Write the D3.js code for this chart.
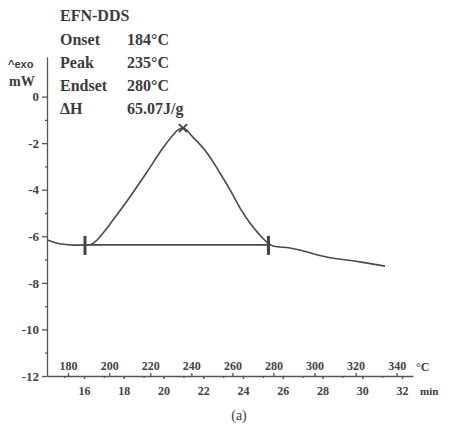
<!DOCTYPE html>
<html>
<head>
<meta charset="UTF-8">
<script src="https://d3js.org/d3.v7.min.js"></script>
<style>
    body { margin: 0; background: #fff; }
    text { font-family: "Liberation Serif", "DejaVu Serif", serif; font-weight: bold; fill: #3c3c3c; }
    .axis path, .axis line { stroke: #555; stroke-width: 1.3px; }
    .axis text { font-size: 12px; fill: #444; }
</style>
</head>
<body>
<svg id="chart"></svg>
<script>
// DSC trace
const timeMin  = [14.14, 14.79, 15.55, 16.05, 16.3, 16.66, 16.96, 17.46, 18.31, 19.17, 19.97, 20.48, 20.73, 20.98, 21.48, 22.19, 22.84, 23.35, 23.85, 24.35, 24.85, 25.26, 25.51, 26.36, 28.2, 29.88, 31.14];
const heatFlow = [-6.16, -6.32, -6.38, -6.37, -6.36, -6.16, -5.86, -5.3, -4.31, -3.24, -2.21, -1.65, -1.43, -1.35, -1.74, -2.42, -3.28, -4.01, -4.79, -5.43, -5.95, -6.29, -6.42, -6.5, -6.89, -7.1, -7.28];

const onset = { t: 16.05, v: -6.37 };
const endset = { t: 25.28, v: -6.37 };
const peak = { t: 20.98, v: -1.35 };

const yTicks = [0, -2, -4, -6, -8, -10, -12];
const timeTicks = [16, 18, 20, 22, 24, 26, 28, 30, 32];
const tempTicks = [180, 200, 220, 240, 260, 280, 300, 320, 340];

const infoLabels = ["Onset", "Peak", "Endset", "\u0394H"];
const infoValues = ["184\u00b0C", "235\u00b0C", "280\u00b0C", "65.07J/g"];

const width = 450, height = 425;
const svg = d3.select("#chart").attr("width", width).attr("height", height);

const x = d3.scaleLinear().domain([14.14, 32.55]).range([47, 413]);
const y = d3.scaleLinear().domain([-12, 1.7]).range([376, 57]);
// temperature -> time (heating ramp)
const tempToTime = d3.scaleLinear().domain([180, 340]).range([15.2, 31.73]);
const xTemp = d3.scaleLinear().domain([180, 340]).range([x(tempToTime(180)), x(tempToTime(340))]);

// y axis
svg.append("g").attr("class", "axis")
    .attr("transform", `translate(${x(14.14)},0)`)
    .call(d3.axisLeft(y).tickValues(yTicks).tickFormat(d => String(d)).tickSize(5).tickPadding(3).tickSizeOuter(0))
    .selectAll("text").style("font-size", "13px");
svg.append("g").attr("class", "axis")
    .attr("transform", `translate(${x(14.14)},0)`)
    .call(d3.axisLeft(y).tickValues(d3.range(-11, 1, 2)).tickSize(2).tickFormat("").tickSizeOuter(0))
    .select(".domain").remove();

// x axes (time below, temperature above)
const xAxisY = y(-12);
svg.append("g").attr("class", "axis")
    .attr("transform", `translate(0,${xAxisY})`)
    .call(d3.axisBottom(x).tickValues(timeTicks).tickSize(3).tickPadding(7).tickSizeOuter(0));
svg.append("g").attr("class", "axis")
    .attr("transform", `translate(0,${xAxisY})`)
    .call(d3.axisBottom(x).tickValues(d3.range(15, 33, 1)).tickSize(2).tickFormat("").tickSizeOuter(0))
    .select(".domain").remove();
svg.append("g").attr("class", "axis")
    .attr("transform", `translate(0,${xAxisY})`)
    .call(d3.axisTop(xTemp).tickValues(tempTicks).tickSize(3).tickPadding(3).tickSizeOuter(0))
    .select(".domain").remove();

svg.append("text").attr("x", 416).attr("y", xAxisY - 5).style("font-size", "12px").text("\u00b0C");
svg.append("text").attr("x", 420).attr("y", xAxisY + 19).style("font-size", "11px").text("min");

// units
svg.append("text").attr("x", 8).attr("y", 68)
    .style("font-family", "'Liberation Sans', Arial, sans-serif").style("font-size", "11px").text("^exo");
svg.append("text").attr("x", 9).attr("y", 86).style("font-size", "14px").text("mW");

// curve
const pts = timeMin.map((t, i) => [t, heatFlow[i]]);
const line = d3.line().x(d => x(d[0])).y(d => y(d[1])).curve(d3.curveMonotoneX);
svg.append("path").datum(pts)
    .attr("d", line).attr("fill", "none").attr("stroke", "#4a4a4a").attr("stroke-width", 1.6);

// integration baseline
svg.append("line")
    .attr("x1", x(onset.t)).attr("x2", x(endset.t))
    .attr("y1", y(onset.v)).attr("y2", y(endset.v))
    .attr("stroke", "#4a4a4a").attr("stroke-width", 1.6);

// onset / endset brackets
[onset, endset].forEach(p => {
    svg.append("rect")
        .attr("x", x(p.t) - 1.5).attr("y", y(p.v) - 9)
        .attr("width", 3).attr("height", 19).attr("fill", "#444");
});

// peak cross
const px = x(peak.t), py = y(peak.v);
svg.append("path")
    .attr("d", `M${px - 4},${py - 4}L${px + 4},${py + 4}M${px - 4},${py + 4}L${px + 4},${py - 4}`)
    .attr("stroke", "#444").attr("stroke-width", 1.8);

// info block
svg.append("text").attr("x", 60).attr("y", 21).style("font-size", "16px").text("EFN-DDS");
infoLabels.forEach((s, i) => {
    svg.append("text").attr("x", 60).attr("y", 45 + i * 23).style("font-size", "16px").text(s);
    svg.append("text").attr("x", 127).attr("y", 45 + i * 23).style("font-size", "16px").text(infoValues[i]);
});

svg.append("text").attr("x", 239).attr("y", 420).attr("text-anchor", "middle")
    .style("font-size", "14px").style("font-weight", "normal").text("(a)");
</script>
</body>
</html>
